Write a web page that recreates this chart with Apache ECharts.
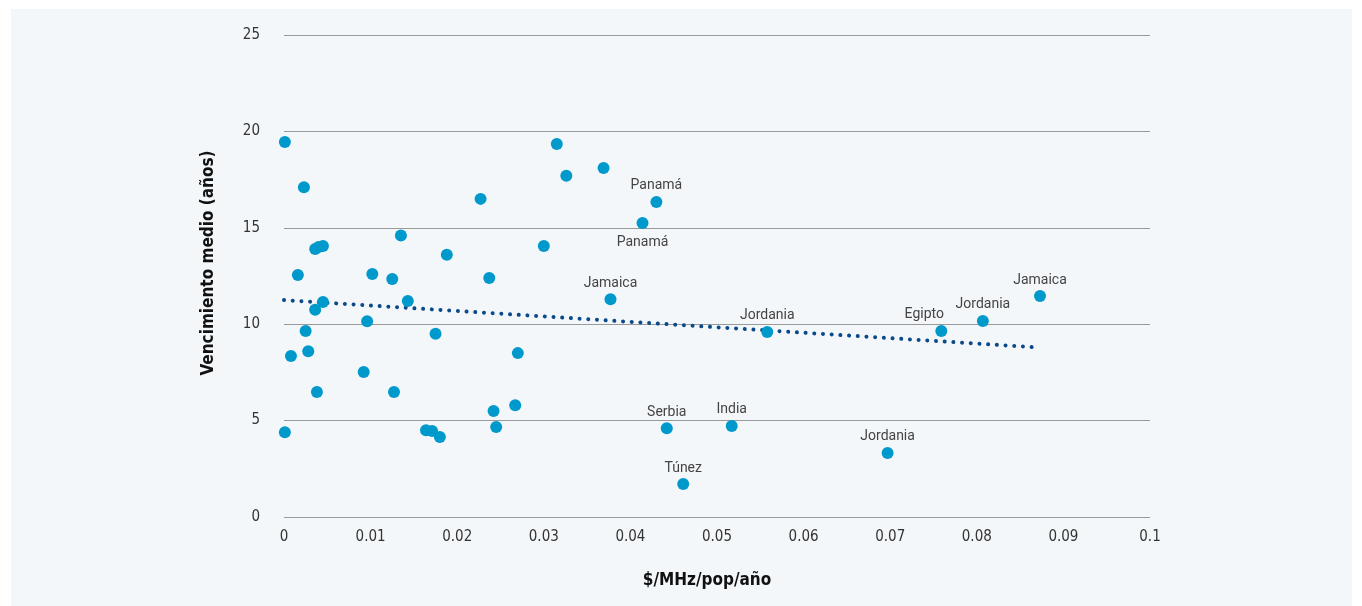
<!DOCTYPE html>
<html>
<head>
<meta charset="utf-8">
<script src="https://cdn.jsdelivr.net/npm/echarts@6/dist/echarts.min.js"></script>
<style>
html,body{margin:0;padding:0;background:#ffffff;}
#bg{position:absolute;left:11px;top:9px;width:1341px;height:597px;background:#f4f7f9;}
#chart{position:absolute;left:0;top:0;width:1362px;height:606px;}
</style>
</head>
<body>
<div id="bg"></div>
<div id="chart"></div>
<script>
// Unlabeled points: [x ($/MHz/pop/año), y (años)]
const pointsX = [0.0001,0.0023,0.0016,0.0036,0.0040,0.0045,0.0036,0.0045,0.0025,0.0028,0.0008,0.0038,0.0001,
  0.0096,0.0102,0.0125,0.0135,0.0143,0.0092,0.0127,0.0175,0.0188,0.0164,0.0171,0.0180,
  0.0227,0.0237,0.0242,0.0245,0.0267,0.0270,0.0300,0.0315,0.0326,0.0369];
const pointsY = [19.45,17.1,12.55,13.9,14.0,14.05,10.75,11.15,9.65,8.6,8.35,6.48,4.4,
  10.15,12.6,12.35,14.6,11.2,7.52,6.48,9.5,13.6,4.5,4.46,4.15,
  16.5,12.4,5.5,4.67,5.8,8.5,14.05,19.35,17.7,18.1];
// Labeled points
const labelNames = ['Jamaica','Panamá','Panamá','Serbia','Túnez','India','Jordania','Jordania','Egipto','Jordania','Jamaica'];
const labelX = [0.0377,0.0414,0.0430,0.0442,0.0461,0.0517,0.0558,0.0697,0.0759,0.0807,0.0873];
const labelY = [11.3,15.25,16.34,4.6,1.71,4.72,9.6,3.32,9.65,10.17,11.46];
// Trend line endpoints
const trendX = [0, 0.0869];
const trendY = [11.25, 8.8];
// Axis ticks
const xTicks = [0,0.01,0.02,0.03,0.04,0.05,0.06,0.07,0.08,0.09,0.1];
const yTicks = [0,5,10,15,20,25];

// label placement styling (kept separate from data)
const belowIdx = new Set([1]);
const shiftIdx = {8:[-17,0]};

const plain = pointsX.map((x,i)=>[x, pointsY[i]]);
const labeled = labelX.map((x,i)=>({
  value:[x, labelY[i]], name:labelNames[i],
  label:{show:true, position: belowIdx.has(i)?'bottom':'top', distance: belowIdx.has(i)?7:3,
    offset: shiftIdx[i] || [0,0], formatter:labelNames[i]}
}));
const trend = trendX.map((x,i)=>[x, trendY[i]]);

const condFont = '"DejaVu Sans", sans-serif';
const chart = echarts.init(document.getElementById('chart'), null, {renderer:'canvas'});
chart.setOption({
  backgroundColor:'transparent',
  animation:false,
  grid:{left:284, right:212, top:35, bottom:89},
  xAxis:{
    type:'value', min:0, max:0.1, interval:0.01,
    axisLine:{show:false}, axisTick:{show:false}, splitLine:{show:false},
    axisLabel:{color:'#333', fontSize:15, fontFamily:condFont, fontStyle:'condensed', margin:13,
      formatter:v=>{const t=xTicks.find(k=>Math.abs(k-v)<1e-9); return t===undefined?'':String(t);}},
    name:'$/MHz/pop/año', nameLocation:'middle', nameGap:55,
    nameTextStyle:{color:'#111', fontSize:17, fontWeight:'bold', fontStyle:'condensed', fontFamily:condFont,
      padding:[0,20,0,0]}
  },
  yAxis:{
    type:'value', min:0, max:25, interval:5,
    axisLine:{show:false}, axisTick:{show:false},
    splitLine:{show:true, lineStyle:{color:'#9a9a9a', width:1}},
    axisLabel:{color:'#333', fontSize:15, fontFamily:condFont, fontStyle:'condensed', margin:24,
      formatter:v=>{const t=yTicks.find(k=>k===v); return t===undefined?'':String(t);}},
    name:'Vencimiento medio (años)', nameLocation:'middle', nameGap:67, nameRotate:90,
    nameTextStyle:{color:'#111', fontSize:17, fontWeight:'bold', fontStyle:'condensed', fontFamily:condFont,
      padding:[0,0,0,26]}
  },
  series:[
    {type:'line', data:trend, symbol:'none', silent:true, z:1,
     lineStyle:{color:'#0a4a8a', width:4, type:[0.01,8.7], cap:'round'}},
    {type:'scatter', data:plain, symbolSize:12, itemStyle:{color:'#0099cc', opacity:1}, z:3},
    {type:'scatter', data:labeled, symbolSize:12, itemStyle:{color:'#0099cc', opacity:1}, z:3,
     label:{color:'#444', fontSize:14, fontFamily:'Roboto, "Open Sans", sans-serif'}}
  ]
});
</script>
</body>
</html>
